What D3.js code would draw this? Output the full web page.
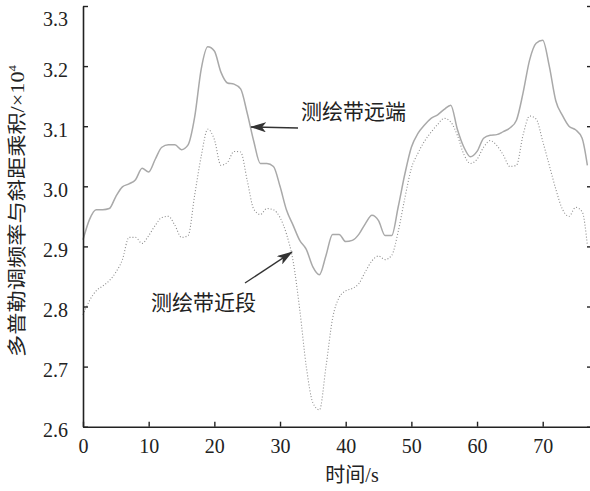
<!DOCTYPE html>
<html>
<head>
<meta charset="utf-8">
<script src="https://cdn.jsdelivr.net/npm/d3@7"></script>
<style>
  html, body { margin: 0; padding: 0; background: #fff; }
  svg { display: block; }
</style>
</head>
<body>
<svg id="chart" width="590" height="491"></svg>
<script>
// Time axis (s)
const times = [0,1,2,3,4,5,6,7,8,9,10,11,12,13,14,15,16,17,18,19,20,21,22,23,24,25,26,27,28,29,
  30,31,32,33,34,35,36,37,38,39,40,41,42,43,44,45,46,47,48,49,50,51,52,53,54,55,56,57,58,59,
  60,61,62,63,64,65,66,67,68,69,70,71,72,73,74,75,76,76.8];

// 测绘带远端 (×10^4)
const farEdge = [2.911,2.945,2.961,2.961,2.963,2.983,2.999,3.004,3.011,3.030,3.024,3.045,3.065,3.069,3.069,3.061,
  3.069,3.115,3.195,3.232,3.225,3.190,3.172,3.170,3.162,3.122,3.075,3.038,3.038,3.033,
  3.000,2.960,2.935,2.910,2.895,2.866,2.853,2.885,2.920,2.920,2.908,2.910,2.920,2.938,2.952,2.943,
  2.918,2.918,2.966,3.020,3.065,3.088,3.102,3.113,3.119,3.128,3.135,3.095,3.065,3.049,
  3.058,3.080,3.085,3.086,3.091,3.097,3.110,3.155,3.210,3.238,3.243,3.200,3.142,3.118,3.100,
  3.094,3.080,3.035];

// 测绘带近段 (×10^4)
const nearEdge = [2.786,2.810,2.826,2.834,2.843,2.857,2.878,2.915,2.915,2.905,2.918,2.935,2.948,2.950,2.935,2.915,
  2.918,2.985,3.050,3.095,3.078,3.035,3.040,3.058,3.057,3.010,2.962,2.953,2.963,2.961,
  2.948,2.920,2.875,2.795,2.700,2.640,2.628,2.700,2.780,2.815,2.826,2.830,2.838,2.858,2.876,2.884,
  2.878,2.885,2.925,2.980,3.030,3.055,3.075,3.090,3.103,3.113,3.107,3.085,3.053,3.038,
  3.045,3.065,3.076,3.068,3.052,3.033,3.035,3.085,3.117,3.112,3.075,3.035,2.995,2.962,2.950,
  2.965,2.958,2.902];

const xTicks = [0,10,20,30,40,50,60,70];
const yTicks = [2.6,2.7,2.8,2.9,3.0,3.1,3.2,3.3];

const svg = d3.select("#chart");
const plotLeft = 83, plotRight = 590, plotTop = 6, plotBottom = 426.7;

const x = d3.scaleLinear().domain([0, 77.2]).range([plotLeft, plotRight]);
const y = d3.scaleLinear().domain([2.6, 3.3]).range([plotBottom, plotTop]);

const serif = "Liberation Serif, Times New Roman, serif";
const cjk = "Liberation Serif, Noto Sans CJK SC, serif";
const ink = "#222";

// Curves
const line = d3.line().x((d, i) => x(times[i])).y(d => y(d)).curve(d3.curveMonotoneX);

svg.append("path").datum(nearEdge)
  .attr("d", line)
  .attr("fill", "none")
  .attr("stroke", "#8c8c8c")
  .attr("stroke-width", 1.1)
  .attr("stroke-dasharray", "1,2");

svg.append("path").datum(farEdge)
  .attr("d", line)
  .attr("fill", "none")
  .attr("stroke", "#a9a9a9")
  .attr("stroke-width", 1.5);

// Axes
const xAxis = svg.append("g")
  .attr("transform", `translate(0,${plotBottom})`)
  .call(d3.axisBottom(x).tickValues(xTicks).tickFormat(d3.format("d")).tickSizeInner(-5).tickSizeOuter(0).tickPadding(12));

const yAxis = svg.append("g")
  .attr("transform", `translate(${plotLeft},0)`)
  .call(d3.axisLeft(y).tickValues(yTicks).tickFormat(d3.format(".1f")).tickSizeInner(-5).tickSizeOuter(0).tickPadding(15));

const yAxisR = svg.append("g")
  .attr("transform", `translate(${plotRight + 1},0)`)
  .call(d3.axisRight(y).tickValues(yTicks).tickFormat("").tickSizeInner(-4).tickSizeOuter(0));
yAxisR.select(".domain").remove();

[xAxis, yAxis, yAxisR].forEach(g => {
  g.attr("font-family", serif).attr("font-size", 20);
  g.select(".domain").attr("stroke", ink).attr("stroke-width", 1.6);
  g.selectAll(".tick line").attr("stroke", ink).attr("stroke-width", 1.4);
  g.selectAll(".tick text").attr("fill", ink);
});

// y labels sit slightly below their ticks; the top one is nudged inside the frame
yAxis.selectAll(".tick text").attr("dy", d => d === 3.3 ? "0.95em" : "0.5em");

// Axis titles
svg.append("text")
  .attr("x", 352).attr("y", 482)
  .attr("text-anchor", "middle")
  .attr("font-family", cjk)
  .attr("font-size", 20)
  .attr("fill", ink)
  .text("时间/s");

const yTitle = svg.append("text")
  .attr("transform", "translate(24,211) rotate(-90)")
  .attr("text-anchor", "middle")
  .attr("textLength", 292)
  .attr("lengthAdjust", "spacingAndGlyphs")
  .attr("font-family", cjk)
  .attr("font-size", 19)
  .attr("fill", ink);
yTitle.append("tspan").text("多普勒调频率与斜距乘积/×10");
yTitle.append("tspan").attr("dy", -8).attr("font-size", 11).text("4");

// Annotations
const defs = svg.append("defs");
defs.append("marker")
  .attr("id", "barb")
  .attr("viewBox", "0 0 16 10")
  .attr("refX", 15).attr("refY", 5)
  .attr("markerWidth", 16).attr("markerHeight", 10)
  .attr("markerUnits", "userSpaceOnUse")
  .attr("orient", "auto")
  .append("path")
  .attr("d", "M0,0 L16,5 L0,10 L4,5 Z")
  .attr("fill", "#333");

svg.append("line")
  .attr("x1", 298).attr("y1", 128).attr("x2", 251).attr("y2", 127)
  .attr("stroke", "#333").attr("stroke-width", 1.4)
  .attr("marker-end", "url(#barb)");

svg.append("text")
  .attr("x", 301).attr("y", 119)
  .attr("font-family", cjk)
  .attr("font-size", 21)
  .attr("fill", ink)
  .text("测绘带远端");

svg.append("line")
  .attr("x1", 245).attr("y1", 283).attr("x2", 292).attr("y2", 252)
  .attr("stroke", "#333").attr("stroke-width", 1.4)
  .attr("marker-end", "url(#barb)");

svg.append("text")
  .attr("x", 151).attr("y", 310)
  .attr("font-family", cjk)
  .attr("font-size", 21)
  .attr("fill", ink)
  .text("测绘带近段");
</script>
</body>
</html>
